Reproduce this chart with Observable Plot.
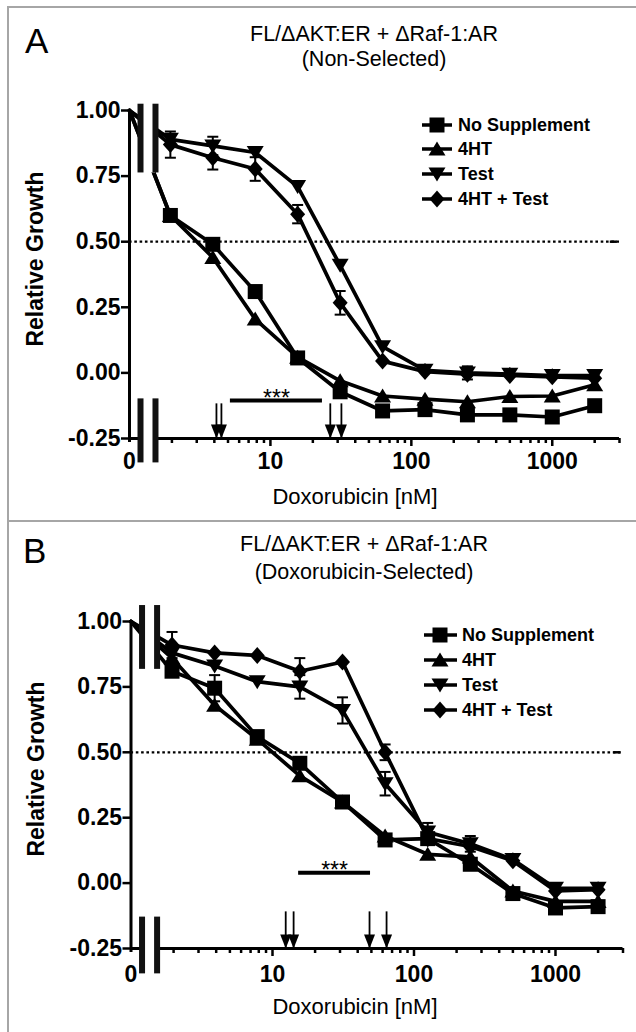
<!DOCTYPE html>
<html>
<head>
<meta charset="utf-8">
<script src="https://cdn.jsdelivr.net/npm/d3@7"></script>
<script src="https://cdn.jsdelivr.net/npm/@observablehq/plot@0.6"></script>
<style>
html,body{margin:0;padding:0;background:#fff;}
body{position:relative;width:636px;height:1032px;overflow:hidden;font-family:"Liberation Sans",Arial,Helvetica,sans-serif;color:#000;}
.border{position:absolute;left:7px;right:0;border-top:2px solid #a6a6a6;border-left:2px solid #a6a6a6;box-sizing:border-box;}
.lbl{position:absolute;white-space:nowrap;line-height:1;}
.chart{position:absolute;left:0;}
</style>
</head>
<body>
<div class="border" style="top:6px;height:514px;"></div>
<div class="border" style="top:520px;height:512px;"></div>
<script>
// ---------------- data ----------------
const doses = [0, 1.95, 3.9, 7.8, 15.6, 31.25, 62.5, 125, 250, 500, 1000, 2000];
const seriesNames = ["No Supplement", "4HT", "Test", "4HT + Test"];
const xTickValues = [1, 10, 100, 1000];
const xTickLabels = ["0", "10", "100", "1000"];
const xMajorTicks = [10, 100, 1000];
const xMinorTicks = [2, 3, 4, 5, 6, 7, 8, 9, 20, 30, 40, 50, 60, 70, 80, 90, 200, 300, 400, 500, 600, 700, 800, 900, 2000, 3000];
const yTicks = [-0.25, 0, 0.25, 0.5, 0.75, 1.0];

// Panel A: Non-Selected
const aNoSupplement = [1.00, 0.60, 0.49, 0.31, 0.057, -0.072, -0.145, -0.14, -0.16, -0.16, -0.168, -0.125];
const a4HT          = [1.00, 0.60, 0.44, 0.205, 0.06, -0.03, -0.088, -0.10, -0.11, -0.09, -0.088, -0.045];
const aTest         = [1.00, 0.89, 0.865, 0.84, 0.71, 0.41, 0.10, 0.01, 0.0, -0.005, -0.01, -0.01];
const a4HTTest      = [1.00, 0.87, 0.82, 0.777, 0.605, 0.267, 0.045, 0.005, -0.005, -0.01, -0.015, -0.02];
const aErrNoSupplement = [0, 0, 0, 0, 0, 0, 0, 0, 0, 0, 0, 0];
const aErr4HT          = [0, 0, 0, 0, 0, 0, 0, 0, 0, 0, 0, 0];
const aErrTest         = [0, 0, 0.035, 0, 0, 0, 0, 0, 0.025, 0, 0, 0];
const aErr4HTTest      = [0, 0.05, 0.045, 0.045, 0.035, 0.045, 0, 0, 0, 0, 0, 0];
const aArrows = [4.14, 4.49, 26.6, 31.9];
const aSig = {x1: 5.2, x2: 23.4, y: -0.105};

// Panel B: Doxorubicin-Selected
const bNoSupplement = [1.00, 0.81, 0.745, 0.56, 0.458, 0.31, 0.165, 0.17, 0.072, -0.04, -0.095, -0.09];
const b4HT          = [1.00, 0.86, 0.68, 0.55, 0.41, 0.31, 0.18, 0.11, 0.10, -0.03, -0.07, -0.07];
const bTest         = [1.00, 0.88, 0.83, 0.77, 0.75, 0.66, 0.38, 0.195, 0.15, 0.09, -0.02, -0.02];
const b4HTTest      = [1.00, 0.91, 0.88, 0.87, 0.81, 0.845, 0.50, 0.17, 0.14, 0.085, -0.03, -0.025];
const bErrNoSupplement = [0, 0, 0.05, 0, 0, 0, 0, 0, 0, 0, 0, 0];
const bErr4HT          = [0, 0, 0, 0, 0, 0, 0, 0, 0, 0, 0, 0];
const bErrTest         = [0, 0, 0, 0, 0.045, 0.05, 0.045, 0.035, 0.03, 0, 0, 0];
const bErr4HTTest      = [0, 0.05, 0, 0, 0.05, 0, 0.03, 0, 0, 0, 0, 0];
const bArrows = [12.4, 14.1, 48.5, 64];
const bSig = {x1: 15.3, x2: 49.3, y: 0.04};

// ---------------- symbols ----------------
const poly = pts => ({draw(ctx) { ctx.moveTo(pts[0][0], pts[0][1]); for (let i = 1; i < pts.length; i++) ctx.lineTo(pts[i][0], pts[i][1]); ctx.closePath(); }});
const SQUARE = poly([[-7.5, -7.5], [7.5, -7.5], [7.5, 7.5], [-7.5, 7.5]]);
const TRI_UP = poly([[0, -7.5], [8.5, 6.5], [-8.5, 6.5]]);
const TRI_DOWN = poly([[0, 7.5], [8.5, -6.5], [-8.5, -6.5]]);
const DIAMOND = poly([[0, -8.5], [7.5, 0], [0, 8.5], [-7.5, 0]]);
const HEAD = poly([[0, 0], [5.5, -14], [-5.5, -14]]);
const CAP = {draw(ctx) { ctx.moveTo(-5.5, 0); ctx.lineTo(5.5, 0); }};
const SYMS = [SQUARE, TRI_UP, TRI_DOWN, DIAMOND];

function buildRows(valueLists, errLists) {
  const rows = [];
  seriesNames.forEach((s, i) => doses.forEach((d, j) => rows.push({
    series: s, dose: d, x: d === 0 ? 1 : d, y: valueLists[i][j], err: errLists[i][j]
  })));
  return rows;
}

function makePanel(p) {
  const rows = buildRows(p.values, p.errors);
  const pts = rows.filter(d => d.dose > 0);
  const errs = rows.filter(d => d.err > 0);
  const caps = errs.flatMap(d => [{x: d.x, y: d.y - d.err}, {x: d.x, y: d.y + d.err}]);
  const spans = p.breakSpans.map(([y1, y2]) => ({y1, y2}));
  const bars = p.breakX.flatMap(x => spans.map(s => ({x, y1: s.y1, y2: s.y2})));
  const svg = Plot.plot({
    width: 636, height: p.height,
    marginLeft: p.ml, marginRight: p.mr, marginTop: p.mt, marginBottom: p.mb,
    x: {type: "log", domain: [1, 3000]},
    y: {domain: [-0.25, 1.0]},
    style: {background: "transparent", overflow: "visible", fontFamily: "'Liberation Sans', Arial, Helvetica, sans-serif", fontWeight: "bold", color: "#000"},
    marks: [
      Plot.ruleY([0.5], {x1: 1, x2: 3000, stroke: "#000", strokeWidth: 2.2, strokeDasharray: "2.6,2.7"}),
      Plot.ruleY([0.5], {x1: 2580, x2: 2900, stroke: "#000", strokeWidth: 2.5}),
      Plot.ruleY([-0.25], {x1: 1, x2: 3000, stroke: "#000", strokeWidth: 3}),
      Plot.ruleX([1], {y1: -0.265, y2: 1.0, stroke: "#000", strokeWidth: 3}),
      Plot.line(rows, {x: "x", y: "y", z: "series", stroke: "#000", strokeWidth: 3.7}),
      Plot.rect(spans, {x1: p.breakX[0], x2: p.breakX[1], y1: "y1", y2: "y2", fill: "white"}),
      Plot.ruleX(bars, {x: "x", y1: "y1", y2: "y2", stroke: "#111", strokeWidth: 6}),
      Plot.ruleX(errs, {x: "x", y1: d => d.y - d.err, y2: d => d.y + d.err, stroke: "#000", strokeWidth: 2}),
      Plot.dot(caps, {x: "x", y: "y", symbol: CAP, stroke: "#000", strokeWidth: 2, fill: "none"}),
      ...[3, 2, 1, 0].map(i => Plot.dot(pts.filter(d => d.series === seriesNames[i]), {x: "x", y: "y", symbol: SYMS[i], fill: "#000", stroke: "none"})),
      Plot.ruleX(p.arrows, {x: d => d, y1: p.arrowTop, y2: -0.25, stroke: "#000", strokeWidth: 1.8}),
      Plot.dot(p.arrows, {x: d => d, y: -0.25, symbol: HEAD, fill: "#000", stroke: "none"}),
      Plot.ruleY([p.sig], {y: "y", x1: "x1", x2: "x2", stroke: "#000", strokeWidth: 4}),
      Plot.text([p.sig], {x: d => Math.sqrt(d.x1 * d.x2), y: "y", text: () => "***", dy: -2, fontSize: 23, fontWeight: "normal", fill: "#000"}),
      Plot.axisY({ticks: yTicks, tickFormat: d => d.toFixed(2), tickSize: 8, tickPadding: 1, fontSize: 23, strokeWidth: 2.5, label: null}),
      Plot.axisX({ticks: xTickValues, tickFormat: d => xTickLabels[xTickValues.indexOf(d)], tickSize: 0, tickPadding: p.xPad, fontSize: 23, label: null}),
      Plot.axisX({ticks: xMajorTicks, tickFormat: () => "", tickSize: 8, strokeWidth: 2.5, label: null}),
      Plot.axisX({ticks: xMinorTicks, tickFormat: () => "", tickSize: 5, strokeWidth: 2.5, label: null})
    ]
  });
  svg.classList.add("chart");
  svg.style.top = p.top + "px";
  svg.style.position = "absolute";
  svg.style.left = "0px";
  document.body.appendChild(svg);
}

function addLabel(text, x, baseline, size, weight, anchor) {
  const el = document.createElement("div");
  el.className = "lbl";
  el.textContent = text;
  el.style.fontSize = size + "px";
  el.style.fontWeight = weight;
  el.style.top = (baseline - 0.8465 * size) + "px";
  el.style.left = x + "px";
  if (anchor === "middle") el.style.transform = "translateX(-50%)";
  document.body.appendChild(el);
}
function addYLabel(text, cx, cy, size) {
  const el = document.createElement("div");
  el.className = "lbl";
  el.textContent = text;
  el.style.fontSize = size + "px";
  el.style.fontWeight = "bold";
  el.style.left = cx + "px";
  el.style.top = cy + "px";
  el.style.transform = "translate(-50%,-50%) rotate(-90deg)";
  document.body.appendChild(el);
}
function addLegend(rowsY, lx0, lx1, mx, tx) {
  const svg = d3.create("svg").attr("width", 636).attr("height", 1032)
    .style("position", "absolute").style("left", 0).style("top", 0).style("overflow", "visible");
  seriesNames.forEach((s, i) => {
    svg.append("line").attr("x1", lx0).attr("x2", lx1).attr("y1", rowsY[i]).attr("y2", rowsY[i])
      .attr("stroke", "#000").attr("stroke-width", 3.5);
    svg.append("path").attr("d", d3.symbol().type(SYMS[i])()).attr("transform", `translate(${mx},${rowsY[i]})`).attr("fill", "#000");
  });
  document.body.appendChild(svg.node());
  seriesNames.forEach((s, i) => addLabel(s, tx, rowsY[i] + 6.5, 18, "bold", "start"));
}

makePanel({
  top: 0, height: 520, ml: 129, mr: 17, mt: 110, mb: 82, xPad: 13.7,
  values: [aNoSupplement, a4HT, aTest, a4HTTest],
  errors: [aErrNoSupplement, aErr4HT, aErrTest, aErr4HTTest],
  breakX: [1.197, 1.529], breakSpans: [[0.762, 1.024], [-0.343, -0.099]],
  arrows: aArrows, arrowTop: -0.118, sig: aSig
});
makePanel({
  top: 520, height: 512, ml: 130.5, mr: 13.5, mt: 101, mb: 84, xPad: 16.7,
  values: [bNoSupplement, b4HT, bTest, b4HTTest],
  errors: [bErrNoSupplement, bErr4HT, bErrTest, bErr4HTTest],
  breakX: [1.197, 1.529], breakSpans: [[0.817, 1.061], [-0.347, -0.13]],
  arrows: bArrows, arrowTop: -0.11, sig: bSig
});

// panel A texts
addLabel("A", 25, 53, 35, "normal", "start");
addLabel("FL/\u0394AKT:ER + \u0394Raf-1:AR", 374, 42, 21.5, "normal", "middle");
addLabel("(Non-Selected)", 374, 67, 21.5, "normal", "middle");
addLabel("Doxorubicin [nM]", 355, 505, 22, "normal", "middle");
addYLabel("Relative Growth", 34.5, 259, 23);
addLegend([125, 149, 174, 199], 422, 452, 437, 458);

// panel B texts
addLabel("B", 23, 563, 35, "normal", "start");
addLabel("FL/\u0394AKT:ER + \u0394Raf-1:AR", 364, 552, 21.5, "normal", "middle");
addLabel("(Doxorubicin-Selected)", 364, 580, 21.5, "normal", "middle");
addLabel("Doxorubicin [nM]", 355, 1015, 22, "normal", "middle");
addYLabel("Relative Growth", 36, 769, 23);
addLegend([635, 660, 685, 710], 424, 457, 440, 462);
</script>
</body>
</html>
